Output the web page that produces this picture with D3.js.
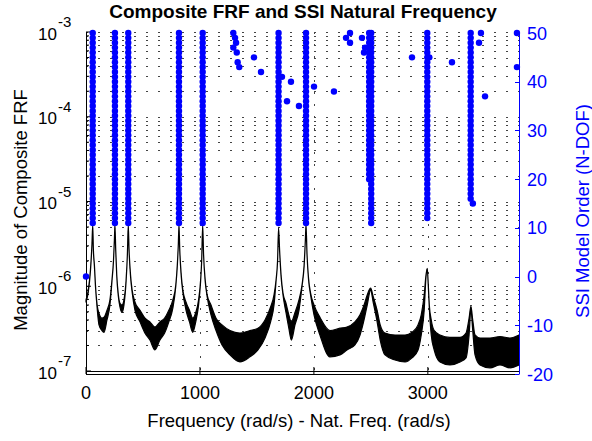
<!DOCTYPE html>
<html>
<head>
<meta charset="utf-8">
<script src="https://cdn.jsdelivr.net/npm/d3@7"></script>
<style>
  body { margin: 0; background: #fff; }
  text { font-family: "Liberation Sans", Arial, sans-serif; }
</style>
</head>
<body>
<svg id="chart" width="592" height="441"></svg>
<script>
// ---- data ----
const xTicks = [0, 1000, 2000, 3000];
const leftDecades = [-7, -6, -5, -4, -3];
const rightTicks = [-20, -10, 0, 10, 20, 30, 40, 50];

// composite FRF, upper and lower edge of the noisy trace
const frfFreq = [0, 20, 39, 52, 59, 65, 74, 83, 98, 114, 140, 158, 184, 210, 228, 241, 249, 254, 261, 270, 284, 298, 316, 333, 352, 363, 371, 378, 391, 405, 430, 474, 518, 561, 605, 649, 690, 727, 762, 788, 801, 810, 816, 823, 836, 850, 878, 908, 937, 963, 988, 1006, 1015, 1024, 1032, 1046, 1063, 1097, 1141, 1194, 1264, 1351, 1439, 1509, 1571, 1620, 1650, 1668, 1681, 1690, 1699, 1712, 1729, 1755, 1780, 1802, 1834, 1869, 1896, 1914, 1925, 1931, 1940, 1953, 1971, 2001, 2053, 2141, 2229, 2290, 2360, 2405, 2440, 2468, 2498, 2520, 2555, 2582, 2624, 2712, 2800, 2861, 2914, 2942, 2968, 2984, 2995, 3004, 3013, 3030, 3056, 3107, 3194, 3282, 3335, 3362, 3378, 3394, 3414, 3458, 3546, 3633, 3721, 3800];
const frfHi = [6.9e-7, 9.0e-7, 1.56e-6, 3.1e-6, 5.3e-6, 2.7e-6, 1.77e-6, 1.04e-6, 6.0e-7, 4.8e-7, 4.2e-7, 4.3e-7, 5.2e-7, 6.9e-7, 1.19e-6, 2.0e-6, 3.5e-6, 5.3e-6, 2.7e-6, 1.36e-6, 7.9e-7, 6.3e-7, 6.0e-7, 6.9e-7, 1.19e-6, 2.35e-6, 5.3e-6, 2.7e-6, 1.36e-6, 9.0e-7, 6.5e-7, 5.2e-7, 4.2e-7, 3.8e-7, 3.3e-7, 3.8e-7, 4.2e-7, 5.2e-7, 6.9e-7, 1.04e-6, 1.77e-6, 3.1e-6, 5.3e-6, 2.7e-6, 1.36e-6, 9.0e-7, 6.5e-7, 5.2e-7, 4.2e-7, 4.9e-7, 6.9e-7, 1.19e-6, 2.0e-6, 5.3e-6, 2.35e-6, 1.19e-6, 7.9e-7, 6.0e-7, 4.2e-7, 3.5e-7, 3.0e-7, 2.8e-7, 3.0e-7, 3.2e-7, 4.0e-7, 5.7e-7, 7.9e-7, 1.19e-6, 2.0e-6, 4.9e-6, 2.7e-6, 1.36e-6, 8.3e-7, 6.3e-7, 4.6e-7, 3.8e-7, 4.9e-7, 6.9e-7, 1.04e-6, 1.77e-6, 3.5e-6, 5.3e-6, 2.35e-6, 1.25e-6, 8.3e-7, 6.0e-7, 4.3e-7, 3.0e-7, 3.2e-7, 3.3e-7, 3.8e-7, 4.6e-7, 6.0e-7, 7.9e-7, 9.5e-7, 7.6e-7, 5.2e-7, 3.5e-7, 2.8e-7, 2.66e-7, 2.66e-7, 2.86e-7, 3.5e-7, 4.6e-7, 7.9e-7, 1.36e-6, 1.63e-6, 1.04e-6, 6.0e-7, 4.0e-7, 3.0e-7, 2.66e-7, 2.5e-7, 2.5e-7, 2.8e-7, 4.2e-7, 5.8e-7, 4.0e-7, 2.66e-7, 2.45e-7, 2.45e-7, 2.55e-7, 2.45e-7, 2.66e-7];
const frfLo = [6.5e-7, 8.5e-7, 1.5e-6, 3.0e-6, 4.9e-6, 2.6e-6, 1.7e-6, 1.0e-6, 5.5e-7, 3.5e-7, 3.0e-7, 2.86e-7, 4.0e-7, 6.0e-7, 1.15e-6, 1.95e-6, 3.4e-6, 4.9e-6, 2.6e-6, 1.3e-6, 7.6e-7, 5.7e-7, 4.9e-7, 6.0e-7, 1.15e-6, 2.3e-6, 4.9e-6, 2.6e-6, 1.3e-6, 8.5e-7, 5.2e-7, 3.8e-7, 2.8e-7, 2.32e-7, 1.77e-7, 2.32e-7, 2.8e-7, 3.8e-7, 5.5e-7, 1.0e-6, 1.7e-6, 3.0e-6, 4.9e-6, 2.6e-6, 1.3e-6, 8.5e-7, 5.2e-7, 3.8e-7, 2.86e-7, 3.8e-7, 6.0e-7, 1.15e-6, 1.95e-6, 4.9e-6, 2.3e-6, 1.15e-6, 7.6e-7, 4.6e-7, 3.0e-7, 2.03e-7, 1.55e-7, 1.28e-7, 1.47e-7, 1.77e-7, 2.45e-7, 3.8e-7, 6.0e-7, 1.15e-6, 1.95e-6, 4.6e-6, 2.6e-6, 1.3e-6, 7.9e-7, 4.9e-7, 3.2e-7, 2.32e-7, 3.5e-7, 5.2e-7, 1.0e-6, 1.7e-6, 3.4e-6, 4.9e-6, 2.3e-6, 1.2e-6, 7.9e-7, 4.6e-7, 2.66e-7, 1.47e-7, 1.55e-7, 1.77e-7, 2.03e-7, 2.66e-7, 4.0e-7, 6.0e-7, 9.0e-7, 6.5e-7, 3.8e-7, 2.32e-7, 1.55e-7, 1.35e-7, 1.28e-7, 1.43e-7, 1.77e-7, 2.66e-7, 5.2e-7, 1.3e-6, 1.55e-6, 1.0e-6, 5.5e-7, 2.66e-7, 1.77e-7, 1.28e-7, 1.18e-7, 1.28e-7, 1.43e-7, 2.66e-7, 5.3e-7, 3.0e-7, 1.55e-7, 1.18e-7, 1.09e-7, 1.18e-7, 1.09e-7, 1.18e-7];

// SSI stable poles: frequency, first model order, last model order
const stableFreq  = [59, 254, 371, 816, 1024, 1690, 1931, 2503, 2485, 2995, 3376];
const stableFrom  = [11, 11, 11, 11, 11, 11, 11, 11, 20, 12, 16];
const stableTo    = [50, 50, 50, 50, 50, 50, 50, 50, 50, 50, 50];

// single (unstable) SSI poles
const poleFreq  = [0, 1293, 1308, 1317, 1293, 1323, 1331, 1345, 1474, 1536, 1720, 1799, 1764, 1869, 2001, 2176, 2282, 2317, 2317, 2422, 2449, 2440, 2861, 3013, 3212, 3395, 3466, 3449, 3502, 3782, 3782];
const poleOrder = [0, 50, 49, 48, 47, 46, 44, 43, 45, 42, 41, 40, 36, 35, 39, 38, 49, 50, 48, 49, 47, 46, 45, 45, 44, 15, 50, 48, 37, 50, 43];

// ---- drawing ----
const svg = d3.select("#chart");
const mLeft = 86, mRight = 519, mTop = 32, bottomL = 371, bottomR = 374;

const x = d3.scaleLinear().domain([0, 3800]).range([mLeft, mRight]);
const yL = d3.scaleLog().domain([1e-7, 1e-3]).range([bottomL, mTop]);
const yR = d3.scaleLinear().domain([-20, 50]).range([bottomR, 33]);

// grid (dotted, major + minor log lines)
const gridVals = [];
leftDecades.forEach(function (d) {
    for (let m = 1; m <= 9; m++) {
        const v = m * Math.pow(10, d);
        if (v <= 1e-3 * 1.0001) gridVals.push(v);
    }
});
const grid = svg.append("g").attr("class", "grid")
    .attr("stroke", "#444").attr("stroke-width", 1)
    .attr("stroke-dasharray", "2,10").attr("shape-rendering", "crispEdges");
grid.selectAll("line.h").data(gridVals).enter().append("line")
    .attr("x1", mLeft).attr("x2", mRight)
    .attr("y1", function (d) { return Math.round(yL(d)) + 0.5; })
    .attr("y2", function (d) { return Math.round(yL(d)) + 0.5; });
grid.selectAll("line.v").data(xTicks.slice(1)).enter().append("line")
    .attr("y1", mTop).attr("y2", bottomL)
    .attr("x1", function (d) { return Math.round(x(d)) + 0.5; })
    .attr("x2", function (d) { return Math.round(x(d)) + 0.5; });

// FRF trace
const frf = frfFreq.map(function (f, i) { return { f: f, hi: frfHi[i], lo: frfLo[i] }; });
const band = d3.area()
    .x(function (d) { return x(d.f); })
    .y0(function (d) { return yL(d.lo); })
    .y1(function (d) { return yL(d.hi); })
    .curve(d3.curveMonotoneX);
svg.append("path").datum(frf)
    .attr("d", band)
    .attr("fill", "#000")
    .attr("stroke", "#000")
    .attr("stroke-width", 1.2)
    .attr("stroke-linejoin", "round");

// left axis (black)
svg.append("line").attr("x1", mLeft + 0.5).attr("x2", mLeft + 0.5)
    .attr("y1", mTop).attr("y2", bottomR).attr("stroke", "#000");
svg.selectAll("line.ltick").data(gridVals).enter().append("line")
    .attr("x1", mLeft).attr("y1", function (d) { return yL(d); }).attr("y2", function (d) { return yL(d); })
    .attr("x2", function (d) { return Math.abs(Math.log10(d) - Math.round(Math.log10(d))) < 1e-6 ? mLeft + 5 : mLeft + 3; })
    .attr("stroke", "#000");
leftDecades.forEach(function (d) {
    const yy = yL(Math.pow(10, d));
    svg.append("text").attr("x", 57).attr("y", yy + 7.5)
        .attr("text-anchor", "end").attr("font-size", 17).text("10");
    svg.append("text").attr("x", 58).attr("y", yy - 5)
        .attr("font-size", 15).text(String(d));
});

// bottom axis lines and ticks
svg.append("line").attr("x1", mLeft).attr("x2", mRight).attr("y1", bottomL + 0.5).attr("y2", bottomL + 0.5).attr("stroke", "#000");
svg.append("line").attr("x1", mLeft).attr("x2", mRight).attr("y1", bottomR + 0.5).attr("y2", bottomR + 0.5).attr("stroke", "#000");
svg.selectAll("line.xtick").data(xTicks).enter().append("line")
    .attr("x1", function (d) { return x(d); }).attr("x2", function (d) { return x(d); })
    .attr("y1", bottomR).attr("y2", bottomL - 4).attr("stroke", "#000");
svg.selectAll("text.xlab").data(xTicks).enter().append("text")
    .attr("x", function (d) { return x(d); }).attr("y", 399)
    .attr("text-anchor", "middle").attr("font-size", 18)
    .text(function (d) { return d; });

// right axis (blue)
svg.append("line").attr("x1", mRight + 0.5).attr("x2", mRight + 0.5)
    .attr("y1", 32).attr("y2", bottomR + 0.5).attr("stroke", "#0000ff");
svg.selectAll("line.rtick").data(rightTicks).enter().append("line")
    .attr("x1", mRight - 4).attr("x2", mRight)
    .attr("y1", function (d) { return Math.round(yR(d)) + 0.5; })
    .attr("y2", function (d) { return Math.round(yR(d)) + 0.5; })
    .attr("stroke", "#0000ff");
svg.selectAll("text.rlab").data(rightTicks).enter().append("text")
    .attr("x", 527).attr("y", function (d) { return yR(d) + 6.5; })
    .attr("font-size", 18).attr("fill", "#0000ff")
    .text(function (d) { return d; });

// SSI poles
const poles = [];
stableFreq.forEach(function (f, i) {
    d3.range(stableFrom[i], stableTo[i] + 1).forEach(function (o) { poles.push({ f: f, o: o }); });
});
poleFreq.forEach(function (f, i) { poles.push({ f: f, o: poleOrder[i] }); });
svg.append("g").selectAll("circle").data(poles).enter().append("circle")
    .attr("cx", function (d) { return x(d.f); })
    .attr("cy", function (d) { return yR(d.o); })
    .attr("r", 3.2)
    .attr("fill", "#0000ff");

// titles
svg.append("text").attr("x", 303).attr("y", 17.5)
    .attr("text-anchor", "middle").attr("font-size", 19).attr("font-weight", "bold")
    .text("Composite FRF and SSI Natural Frequency");
svg.append("text").attr("x", 299).attr("y", 427)
    .attr("text-anchor", "middle").attr("font-size", 18.5)
    .text("Frequency (rad/s) - Nat. Freq. (rad/s)");
svg.append("text").attr("transform", "translate(27,210) rotate(-90)")
    .attr("text-anchor", "middle").attr("font-size", 18.5)
    .text("Magnitude of Composite FRF");
svg.append("text").attr("transform", "translate(589,211) rotate(-90)")
    .attr("text-anchor", "middle").attr("font-size", 18.5).attr("fill", "#0000ff")
    .text("SSI Model Order (N-DOF)");
</script>
</body>
</html>
